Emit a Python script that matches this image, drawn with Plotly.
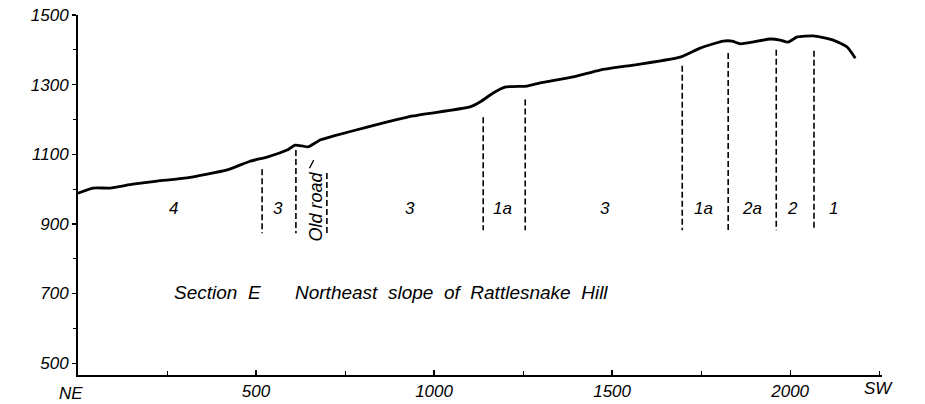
import plotly.graph_objects as go

# Ground profile (distance in feet from NE end, elevation in feet)
profile_x = [0, 42, 90, 154, 222, 306, 419, 483, 531, 587, 610, 629, 646, 680, 716, 812, 941,
             1101, 1129, 1166, 1199, 1261, 1298, 1390, 1466, 1522, 1559, 1691, 1747, 1812, 1837,
             1860, 1944, 1972, 1994, 2020, 2065, 2121, 2160, 2183]
profile_y = [988, 1003, 1003, 1014, 1023, 1032, 1055, 1080, 1092, 1112, 1126, 1124, 1121, 1141, 1152,
             1178, 1210, 1236, 1250, 1276, 1293, 1296, 1305, 1322, 1342, 1351, 1356, 1379, 1405, 1425,
             1425, 1417, 1431, 1428, 1422, 1437, 1440, 1428, 1408, 1376]

# Dashed unit boundaries
boundary_x = [517, 612, 699, 1138, 1256, 1697, 1826, 1961, 2067]
boundary_top = [1057, 1112, 1046, 1206, 1257, 1354, 1391, 1400, 1397]
boundary_bottom = [873, 873, 873, 882, 882, 882, 882, 882, 882]

# Unit labels
unit_labels = ["4", "3", "3", "1a", "3", "1a", "2a", "2", "1"]
unit_label_x = [267, 562, 933, 1191, 1480, 1756, 1893, 2008, 2121]
unit_label_y = 945

old_road_label = "Old road"
old_road_x = 671
old_road_y = 950
leader_x = [650, 662]
leader_y = [1060, 1083]

title_left = "Section\u00a0\u00a0E"
title_left_x = 392
title_right = "Northeast\u00a0\u00a0slope\u00a0\u00a0of\u00a0\u00a0Rattlesnake\u00a0\u00a0Hill"
title_right_x = 604
title_y = 704

x_tickvals = [500, 1000, 1500, 2000]
x_minor = [250, 750, 1250, 1750, 2250]
y_tickvals = [500, 700, 900, 1100, 1300, 1500]
y_minor = [600, 800, 1000, 1200, 1400]

FONT = "Liberation Sans"
ink = "black"

fig = go.Figure()

fig.add_trace(go.Scatter(x=profile_x, y=profile_y, mode="lines",
                         line=dict(color=ink, width=2.8, shape="spline", smoothing=0.5),
                         hoverinfo="skip", showlegend=False))

bx, by = [], []
for x, t, b in zip(boundary_x, boundary_top, boundary_bottom):
    bx += [x, x, None]
    by += [t, b, None]
fig.add_trace(go.Scatter(x=bx, y=by, mode="lines",
                         line=dict(color=ink, width=1.6, dash="6px,3px"),
                         hoverinfo="skip", showlegend=False))

fig.add_trace(go.Scatter(x=leader_x, y=leader_y, mode="lines",
                         line=dict(color=ink, width=1.3),
                         hoverinfo="skip", showlegend=False))

fnt = dict(family=FONT, size=17, color=ink, style="italic")
lab_fnt = dict(family=FONT, size=17, color=ink, style="italic")
title_fnt = dict(family=FONT, size=19, color=ink, style="italic")

ann = []
for lab, x in zip(unit_labels, unit_label_x):
    ann.append(dict(x=x, y=unit_label_y, text=lab, showarrow=False, font=lab_fnt,
                    xanchor="center", yanchor="middle"))
ann.append(dict(x=old_road_x, y=old_road_y, text=old_road_label, textangle=-90,
                showarrow=False, font=dict(family=FONT, size=18, color=ink, style="italic"),
                xanchor="center", yanchor="middle"))
ann.append(dict(x=title_left_x, y=title_y, text=title_left, showarrow=False,
                font=title_fnt, xanchor="center", yanchor="middle"))
ann.append(dict(x=title_right_x, y=title_y, text=title_right, showarrow=False,
                font=title_fnt, xanchor="left", yanchor="middle"))
ann.append(dict(x=0, y=0, xref="x", yref="paper", text="NE", showarrow=False,
                font=fnt, xanchor="center", yanchor="top", xshift=-7, yshift=-7))
ann.append(dict(x=2258, y=0, xref="x", yref="paper", text="SW", showarrow=False,
                font=fnt, xanchor="center", yanchor="top", xshift=-4, yshift=-2))

fig.update_layout(
    width=925, height=404,
    margin=dict(l=78, r=43, t=15, b=29, autoexpand=False),
    paper_bgcolor="white", plot_bgcolor="white",
    annotations=ann,
    xaxis=dict(range=[0, 2258], showgrid=False, zeroline=False, automargin=False,
               showline=True, linecolor=ink, linewidth=2,
               tickmode="array", tickvals=x_tickvals,
               ticks="inside", ticklen=5, tickwidth=1.2, tickcolor=ink,
               minor=dict(tickmode="array", tickvals=x_minor, ticks="inside",
                          ticklen=4, tickwidth=1, tickcolor=ink),
               tickfont=fnt, fixedrange=True),
    yaxis=dict(range=[466, 1500], showgrid=False, zeroline=False, automargin=False,
               showline=True, linecolor=ink, linewidth=2,
               tickmode="array", tickvals=y_tickvals,
               ticks="outside", ticklen=4, tickwidth=1.2, tickcolor=ink,
               minor=dict(tickmode="array", tickvals=y_minor, ticks="outside",
                          ticklen=3, tickwidth=1, tickcolor=ink),
               tickfont=fnt, fixedrange=True),
)

fig.write_html("out.html", config={"displayModeBar": False, "staticPlot": True},
               post_script="document.body.style.margin='0';")
